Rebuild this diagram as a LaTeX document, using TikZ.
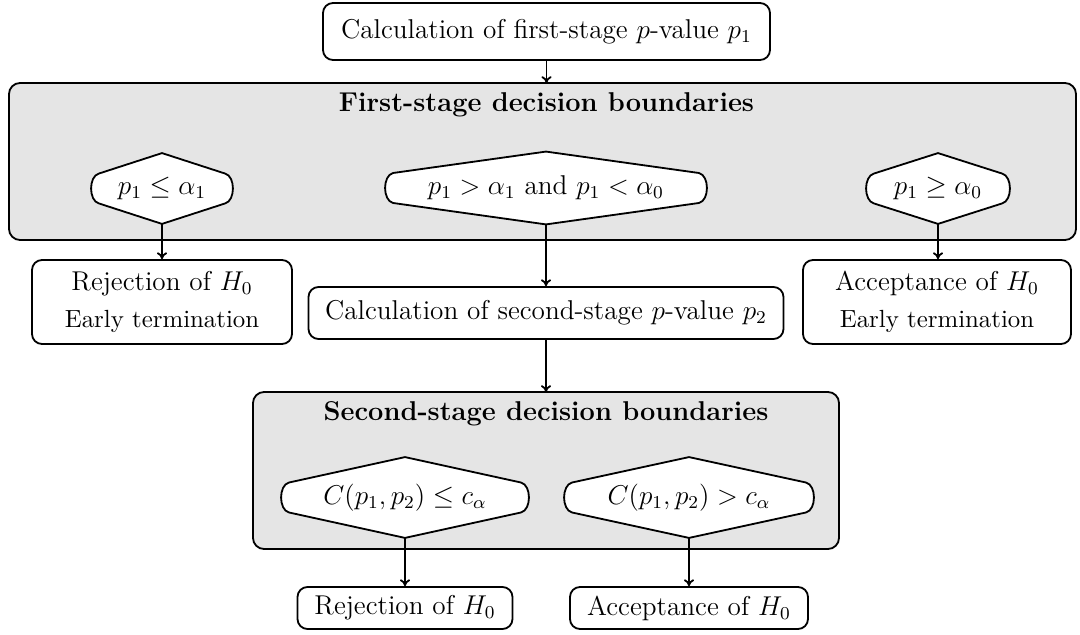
\documentclass[tikz,border=0pt,12pt]{standalone}
\usetikzlibrary{arrows.meta}
\newcommand\pxu{0.0155cm}
% decision test: a flat diamond with round blunt ends around a text
% #1 name, #2 centre x, #3 centre y, #4 width, #5 height, #6 text
\newcommand\testnode[6]{%
  \node[minimum width=#4*\pxu,minimum height=#5*\pxu,inner sep=0pt] (#1) at (#2,#3) {};
  \filldraw[testshape] (#1.north)
     -- ([shift={(-8,-15)}]#1.east)
        .. controls ([shift={(2.7,-12.5)}]#1.east) and ([shift={(2.7,12.5)}]#1.east)
        .. ([shift={(-8,15)}]#1.east)
     -- (#1.south)
     -- ([shift={(8,15)}]#1.west)
        .. controls ([shift={(-2.7,12.5)}]#1.west) and ([shift={(-2.7,-12.5)}]#1.west)
        .. ([shift={(8,-15)}]#1.west)
     -- cycle;
  \node (#1-t) at (#1) {#6};}
\begin{document}
\begin{tikzpicture}[x=\pxu,y=-\pxu,
  line width=0.8pt,
  >={To[length=3pt,width=4.5pt]},
  proc/.style={draw,rounded corners=10*\pxu,fill=white,align=center,
    minimum width=#1*\pxu,inner sep=0pt},
  panel/.style={draw,rounded corners=11*\pxu,fill=gray!20},
  testshape/.style={draw,fill=white,line join=round},
  flow/.style={->}]
\useasboundingbox (0,0) rectangle (1080,635);

% stage-one p-value
\node[proc=447,minimum height=57*\pxu] (p1) at (546.5,31.5)
  {Calculation of first-stage $p$-value $p_1$};

% first-stage panel
\draw[panel] (9,83) rectangle (1076,240);
\coordinate (panelA) at (546.5,83);
\node[font=\bfseries] (titleA) at (546.5,105) {First-stage decision boundaries};
\testnode{dA1}{162}{188.5}{140}{69}{$p_1\le\alpha_1$}
\testnode{dA2}{546}{188}{320}{71}{$p_1>\alpha_1$ and $p_1<\alpha_0$}
\testnode{dA3}{938}{188.5}{142}{69}{$p_1\ge\alpha_0$}

% first-stage outcomes
\node[proc=260,minimum height=84*\pxu] (rejA) at (162,302)
  {Rejection of $H_0$\\[2pt]\small Early termination};
\node[proc=475,minimum height=52*\pxu] (p2) at (546,313)
  {Calculation of second-stage $p$-value $p_2$};
\node[proc=268,minimum height=84*\pxu] (accA) at (937,302)
  {Acceptance of $H_0$\\[2pt]\small Early termination};

% second-stage panel
\draw[panel] (253,392) rectangle (839,549);
\coordinate (panelB) at (546,392);
\node[font=\bfseries] (titleB) at (546,414) {Second-stage decision boundaries};
\testnode{dB1}{405}{497.5}{246}{79}{$C(p_1,p_2)\le c_\alpha$}
\testnode{dB2}{689}{497.5}{248}{79}{$C(p_1,p_2)>c_\alpha$}

% final outcomes
\node[proc=215,minimum height=42*\pxu] (rejB) at (405,608) {Rejection of $H_0$};
\node[proc=238,minimum height=42*\pxu] (accB) at (689,608) {Acceptance of $H_0$};

% connectors
\draw[flow] (p1.south) -- (panelA);
\draw[flow] (dA1.south) -- (dA1.south |- rejA.north);
\draw[flow] (dA2.south) -- (dA2.south |- p2.north);
\draw[flow] (dA3.south) -- (dA3.south |- accA.north);
\draw[flow] (p2.south) -- (panelB);
\draw[flow] (dB1.south) -- (dB1.south |- rejB.north);
\draw[flow] (dB2.south) -- (dB2.south |- accB.north);
\end{tikzpicture}
\end{document}
